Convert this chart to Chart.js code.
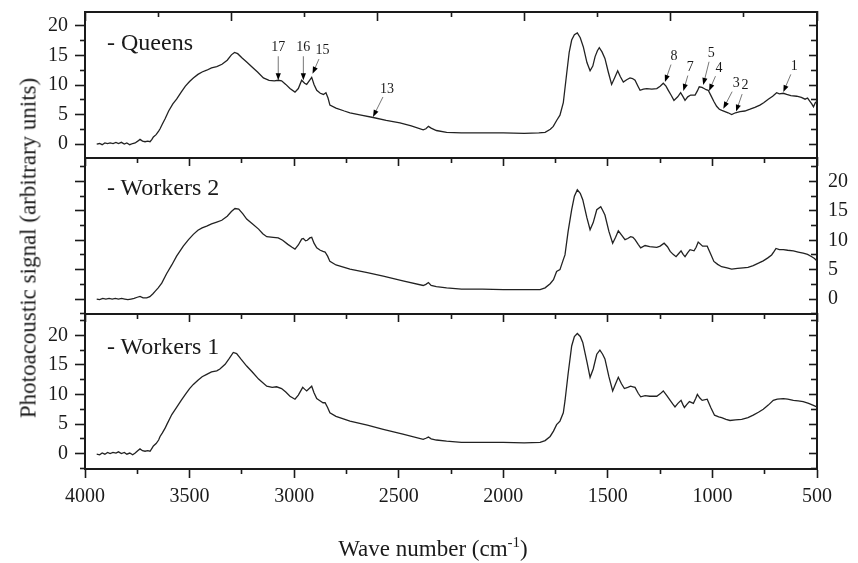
<!DOCTYPE html>
<html>
<head>
<meta charset="utf-8">
<script src="https://cdn.jsdelivr.net/npm/chart.js@4.4.1/dist/chart.umd.min.js"></script>
<style>
  body { margin: 0; background: #fff; }
  #wrap { position: relative; width: 858px; height: 563px; font-family: "Liberation Serif", "Times New Roman", serif; color: #1a1a1a; }
  canvas { position: absolute; left: 0; top: 0; }
  .panel-name { position: absolute; left: 107px; font-size: 24px; line-height: 24px; white-space: nowrap; }
  #ytitle { position: absolute; left: 28px; top: 248px; font-size: 23px; line-height: 23px; white-space: nowrap;
            transform: translate(-50%, -50%) rotate(-90deg); }
  #xtitle { position: absolute; left: 433px; top: 537px; font-size: 23px; line-height: 23px; white-space: nowrap;
            transform: translateX(-50%); }
  #xtitle sup { font-size: 15px; vertical-align: 9px; line-height: 0; }
</style>
</head>
<body>
<div id="wrap">
  <canvas id="c0" width="858" height="563"></canvas>
  <canvas id="c1" width="858" height="563"></canvas>
  <canvas id="c2" width="858" height="563"></canvas>
  <div class="panel-name" style="top:30px">- Queens</div>
  <div class="panel-name" style="top:175px">- Workers 2</div>
  <div class="panel-name" style="top:334px">- Workers 1</div>
  <div id="ytitle">Photoacoustic signal (arbitrary units)</div>
  <div id="xtitle">Wave number (cm<sup>-1</sup>)</div>
</div>
<script>
// spectra (wave number in cm-1, signal in arbitrary units)
var queensWave = [3944,3930,3918,3905,3892,3880,3866,3852,3840,3826,3812,3800,3786,3772,3760,3748,3737,3725,3713,3700,
  3689,3680,3673,3660,3648,3641,3630,3617,3600,3580,3562,3540,3520,3500,3482,3460,3440,3418,3395,3370,
  3345,3320,3300,3285,3270,3250,3227,3200,3175,3147,3120,3095,3076,3060,3040,3020,2996,2980,2964,2950,
  2940,2928,2916,2905,2892,2875,2860,2848,2838,2829,2800,2760,2733,2680,2622,2560,2494,2440,2383,2370,
  2358,2345,2320,2271,2200,2100,2000,1900,1830,1800,1775,1761,1745,1729,1713,1697,1685,1673,1660,1646,
  1632,1617,1600,1585,1572,1561,1550,1541,1528,1514,1498,1482,1468,1453,1440,1426,1410,1394,1382,1370,
  1356,1346,1330,1314,1290,1266,1250,1235,1222,1211,1198,1184,1166,1152,1140,1131,1118,1104,1083,1072,
  1063,1050,1040,1030,1020,1007,993,980,967,955,940,925,908,890,868,845,820,797,773,755,
  733,712,693,680,661,645,625,597,575,557,545,533,525,517,508,501];
var queensSignal = [0.0,0.1,-0.1,0.2,0.1,0.2,0.1,0.3,0.1,0.3,0.0,0.2,-0.1,0.1,0.2,0.5,0.8,0.5,0.4,0.5,
  0.4,0.8,1.2,1.6,2.2,2.6,3.4,4.3,5.6,6.8,7.6,8.8,9.8,10.6,11.2,11.8,12.2,12.5,12.9,13.1,
  13.5,14.2,15.1,15.5,15.3,14.6,13.9,13.0,12.2,11.2,10.8,10.7,10.8,10.7,10.1,9.4,8.8,9.4,10.8,10.3,
  10.1,10.7,11.3,10.1,9.1,8.6,8.4,8.7,7.8,6.6,6.1,5.6,5.3,4.9,4.5,4.0,3.6,3.1,2.4,2.6,
  3.0,2.7,2.3,2.0,1.9,1.9,1.9,1.8,1.9,2.0,2.5,3.0,4.0,4.9,7.0,11.9,15.5,17.6,18.5,18.8,
  18.0,16.4,13.8,12.4,13.2,14.8,15.8,16.3,15.6,14.5,12.2,10.1,11.2,12.4,11.4,10.5,10.9,11.2,11.1,10.8,
  9.8,9.1,9.3,9.4,9.3,9.4,9.8,10.3,9.8,9.1,8.3,7.4,8.0,8.7,8.0,7.4,8.0,8.3,8.3,9.0,
  9.7,9.6,9.4,9.2,9.1,8.2,7.2,6.4,5.9,5.7,5.5,5.3,5.0,5.3,5.5,5.6,5.9,6.2,6.6,7.0,
  7.6,8.1,8.7,8.5,8.6,8.4,8.2,8.1,7.9,7.6,7.8,7.2,6.8,6.3,7.0,7.2];

var workers2Wave = [3944,3930,3915,3900,3885,3870,3855,3840,3825,3810,3795,3780,3765,3750,3737,3722,3705,3690,3675,3665,
  3650,3633,3610,3585,3562,3530,3505,3482,3460,3440,3418,3395,3370,3346,3320,3300,3283,3265,3245,3227,
  3200,3170,3150,3131,3100,3076,3055,3030,3010,2996,2980,2964,2956,2945,2937,2925,2916,2905,2892,2875,
  2862,2852,2840,2829,2800,2733,2650,2574,2480,2383,2370,2358,2345,2320,2271,2200,2100,2000,1900,1824,
  1800,1776,1760,1745,1729,1713,1705,1690,1673,1660,1646,1632,1620,1600,1585,1570,1553,1534,1525,1514,
  1495,1477,1463,1450,1435,1418,1405,1391,1380,1370,1355,1343,1322,1300,1266,1250,1231,1215,1202,1188,
  1174,1162,1150,1140,1131,1118,1107,1088,1078,1068,1047,1025,1010,993,975,956,930,908,880,853,
  830,805,780,757,735,717,705,696,680,661,640,613,590,566,545,525,512,501];
var workers2Signal = [0.0,-0.1,0.1,0.0,0.1,0.0,0.1,0.0,0.1,0.0,-0.1,0.0,0.1,0.3,0.45,0.2,0.2,0.4,0.9,1.3,
  1.9,2.7,4.3,5.8,7.3,9.0,10.1,11.0,11.7,12.1,12.4,12.8,13.1,13.4,14.1,14.9,15.4,15.3,14.5,13.6,
  12.8,11.9,11.1,10.6,10.5,10.4,10.0,9.3,8.8,8.5,9.2,10.2,10.3,9.9,10.0,10.4,10.5,9.5,8.7,8.3,
  8.1,8.0,7.3,6.4,5.8,5.1,4.5,3.9,3.1,2.3,2.5,2.8,2.3,2.1,1.9,1.7,1.7,1.6,1.6,1.6,
  1.9,2.6,3.3,4.7,5.0,6.7,7.5,11.5,15.2,17.5,18.6,18.0,16.9,13.8,11.8,13.0,15.2,15.7,15.1,14.3,
  11.5,9.5,10.5,11.6,10.9,10.1,10.3,10.6,10.5,10.1,9.3,8.7,9.1,8.9,8.8,9.0,9.5,8.9,8.1,7.6,
  7.2,7.7,8.2,7.6,7.2,7.9,8.4,8.2,8.8,9.7,9.0,9.0,7.8,6.4,5.9,5.5,5.3,5.1,5.2,5.3,
  5.4,5.7,6.1,6.5,7.0,7.5,8.1,8.6,8.4,8.4,8.3,8.2,8.0,7.8,7.6,7.2,6.9,6.5];

var workers1Wave = [3944,3930,3918,3905,3892,3880,3866,3852,3840,3826,3812,3800,3786,3772,3760,3748,3737,3725,3713,3700,
  3689,3680,3673,3660,3648,3641,3630,3617,3609,3585,3562,3540,3520,3500,3482,3460,3440,3418,3395,3370,
  3355,3330,3310,3291,3275,3255,3227,3200,3170,3131,3105,3084,3060,3040,3020,2996,2980,2959,2950,2940,
  2928,2916,2905,2892,2875,2862,2852,2840,2829,2800,2733,2650,2574,2480,2383,2370,2358,2345,2320,2271,
  2200,2100,2000,1900,1824,1800,1776,1760,1745,1729,1713,1705,1690,1673,1660,1646,1632,1620,1600,1585,
  1570,1553,1538,1525,1514,1495,1477,1463,1450,1435,1421,1405,1391,1380,1370,1355,1343,1322,1300,1266,
  1250,1235,1218,1202,1190,1179,1165,1150,1140,1134,1120,1110,1091,1080,1072,1060,1049,1025,1008,990,
  970,956,935,916,890,860,830,805,780,757,733,709,690,661,640,613,590,566,540,520,501];
var workers1Signal = [-0.1,-0.2,0.1,-0.1,0.2,0.0,0.2,0.1,0.3,0.0,0.2,-0.1,0.1,-0.2,0.1,0.5,0.8,0.5,0.4,0.5,
  0.4,0.9,1.3,1.7,2.3,2.9,3.5,4.3,4.9,6.6,7.8,9.0,10.0,11.0,11.7,12.4,13.0,13.4,13.8,14.0,
  14.3,15.1,16.1,17.1,16.9,16.0,14.8,13.8,12.6,11.4,11.2,11.3,11.0,10.4,9.7,9.2,9.9,11.2,10.9,10.6,
  11.0,11.4,10.3,9.3,8.9,8.6,8.6,7.8,6.9,6.3,5.5,4.8,4.1,3.3,2.4,2.6,2.8,2.5,2.3,2.1,
  1.9,1.9,1.9,1.8,1.9,2.2,2.9,3.8,4.9,5.5,6.9,8.9,13.5,18.2,19.8,20.3,19.8,18.8,15.5,12.9,
  14.3,16.8,17.5,16.8,16.0,13.0,10.6,11.8,12.9,11.8,11.0,11.2,11.4,11.3,11.2,10.2,9.6,9.8,9.7,9.7,
  10.1,10.6,9.8,9.0,8.4,7.9,8.5,9.0,8.2,7.8,8.4,8.8,8.5,9.3,10.0,9.4,9.0,9.2,7.8,6.5,
  6.2,6.1,5.8,5.6,5.7,5.8,6.1,6.5,7.0,7.5,8.2,9.0,9.2,9.3,9.2,9.0,8.9,8.8,8.5,8.2,7.9];

// tick values
var waveMajorTicks = [4000, 3500, 3000, 2500, 2000, 1500, 1000, 500];
var waveMinorTicks = [3750, 3250, 2750, 2250, 1750, 1250, 750];
var topEdgeMajorTicks = [4000, 3300, 2600, 1900, 1200, 500];
var topEdgeMinorTicks = [3650, 2950, 2250, 1550, 850];
var signalMajorTicks = [0, 5, 10, 15, 20];
var signalMinorTicks = [-2.5, 2.5, 7.5, 12.5, 17.5, 22.5];

// panel axis ranges
var waveMin = 500, waveMax = 4000;
var signalMin = [-2.35, -2.55, -2.6];
var signalMax = [22.35, 24.0, 23.6];

// peak markers on the Queens spectrum
var peakLabels = ['17', '16', '15', '13', '8', '7', '5', '4', '3', '2', '1'];
var peakWave = [3076, 2956, 2912, 2623, 1227, 1139, 1044, 1016, 948, 887, 661];
var peakSignal = [10.8, 10.8, 11.9, 4.6, 10.5, 9.0, 10.0, 9.0, 6.0, 5.5, 8.8];

// layout
var plotLeft = 85, plotRight = 817, pageW = 858, pageH = 563;
var panelTop = [12, 158, 314];
var panelBottom = [158, 314, 469];
var labelBox = 60;     // room kept for a labelled axis
var labelDx = [0, 0, 10, 14, 9, 7, 8, 10, 13, 9, 11];
var labelDy = [-33, -33, -23, -28, -26, -24, -32, -23, -25, -26, -26];

var INK = '#1a1a1a';
Chart.defaults.font.family = '"Liberation Serif", "Times New Roman", serif';
Chart.defaults.color = INK;

function tickScale(axisName, position, min, max, values, len, labelPad, frame) {
  var inRange = values.filter(function (v) { return v >= min - 1e-9 && v <= max + 1e-9; });
  var labelled = labelPad !== null;
  var size = labelled ? labelBox : 0;
  return {
    type: 'linear',
    axis: axisName,
    position: position,
    weight: labelled ? 1 : 0,
    min: min,
    max: max,
    reverse: axisName === 'x',
    afterBuildTicks: function (s) { s.ticks = inRange.map(function (v) { return {value: v}; }); },
    afterFit: function (s) {
      if (s.isHorizontal()) { s.height = size; } else { s.width = size; }
      s.paddingTop = 0; s.paddingBottom = 0; s.paddingLeft = 0; s.paddingRight = 0;
    },
    grid: {display: len !== 0, drawOnChartArea: false, drawTicks: true, tickLength: len, tickColor: INK, tickWidth: 1.6},
    border: {display: !!frame, color: INK, width: 2},
    ticks: {
      display: labelled,
      autoSkip: false,
      maxRotation: 0,
      padding: labelled ? labelPad : 0,
      color: INK,
      font: {size: 20},
      callback: function (v) { return String(v); }
    }
  };
}

var peakPlugin = {
  id: 'peaks',
  afterDatasetsDraw: function (chart) {
    var ctx = chart.ctx, xs = chart.scales.x, ys = chart.scales.y;
    ctx.save();
    ctx.font = '14px "Liberation Serif", serif';
    ctx.textAlign = 'center';
    ctx.textBaseline = 'middle';
    for (var i = 0; i < peakLabels.length; i++) {
      var tx = xs.getPixelForValue(peakWave[i]);
      var ty = ys.getPixelForValue(peakSignal[i]);
      var lx = tx + labelDx[i], ly = ty + labelDy[i];
      ctx.fillStyle = INK;
      ctx.fillText(peakLabels[i], lx, ly);
      var dx = tx - lx, dy = ty - ly, d = Math.sqrt(dx * dx + dy * dy);
      var ux = dx / d, uy = dy / d;
      ctx.strokeStyle = '#777';
      ctx.lineWidth = 1;
      ctx.beginPath();
      ctx.moveTo(lx + ux * 9, ly + uy * 9);
      ctx.lineTo(tx - ux * 5, ty - uy * 5);
      ctx.stroke();
      ctx.fillStyle = '#000';
      ctx.beginPath();
      ctx.moveTo(tx, ty);
      ctx.lineTo(tx - ux * 7 - uy * 2.6, ty - uy * 7 + ux * 2.6);
      ctx.lineTo(tx - ux * 7 + uy * 2.6, ty - uy * 7 - ux * 2.6);
      ctx.closePath();
      ctx.fill();
    }
    ctx.restore();
  }
};

function makePanel(i, wave, signal) {
  var ymin = signalMin[i], ymax = signalMax[i];
  var scales = {};
  var pad = {left: plotLeft, right: pageW - plotRight, top: panelTop[i], bottom: pageH - panelBottom[i]};

  if (i === 2) {
    scales.x = tickScale('x', 'bottom', waveMin, waveMax, waveMajorTicks, 9, 7, true);
    scales.xMinor = tickScale('x', 'bottom', waveMin, waveMax, waveMinorTicks, 5, null, false);
    pad.bottom -= labelBox;
  } else {
    scales.x = tickScale('x', 'bottom', waveMin, waveMax, [], 0, null, true);
  }
  if (i === 0) {
    scales.xTop = tickScale('x', 'top', waveMin, waveMax, topEdgeMajorTicks, -9, null, true);
    scales.xTopMinor = tickScale('x', 'top', waveMin, waveMax, topEdgeMinorTicks, -5, null, false);
  } else {
    scales.xTop = tickScale('x', 'top', waveMin, waveMax, waveMajorTicks, -8, null, true);
    scales.xTopMinor = tickScale('x', 'top', waveMin, waveMax, waveMinorTicks, -5, null, false);
  }
  if (i === 1) {
    scales.y = tickScale('y', 'left', ymin, ymax, signalMajorTicks, 10, null, true);
    scales.yRight = tickScale('y', 'right', ymin, ymax, signalMajorTicks, -8, 19, true);
    pad.right -= labelBox;
  } else {
    scales.y = tickScale('y', 'left', ymin, ymax, signalMajorTicks, 10, 7, true);
    scales.yRight = tickScale('y', 'right', ymin, ymax, signalMajorTicks, -8, null, true);
    pad.left -= labelBox;
  }
  scales.yMinor = tickScale('y', 'left', ymin, ymax, signalMinorTicks, 5, null, false);
  scales.yRightMinor = tickScale('y', 'right', ymin, ymax, signalMinorTicks, -6, null, false);

  var points = wave.map(function (w, k) { return {x: w, y: signal[k]}; });

  return new Chart(document.getElementById('c' + i), {
    type: 'line',
    data: {
      datasets: [{
        data: points,
        borderColor: '#222',
        borderWidth: 1.3,
        pointRadius: 0,
        fill: false,
        tension: 0,
        xAxisID: 'x',
        yAxisID: 'y'
      }]
    },
    options: {
      responsive: false,
      animation: false,
      devicePixelRatio: 1,
      events: [],
      layout: {padding: pad},
      plugins: {legend: {display: false}, tooltip: {enabled: false}},
      scales: scales
    },
    plugins: i === 0 ? [peakPlugin] : []
  });
}

makePanel(0, queensWave, queensSignal);
makePanel(1, workers2Wave, workers2Signal);
makePanel(2, workers1Wave, workers1Signal);
</script>
</body>
</html>
